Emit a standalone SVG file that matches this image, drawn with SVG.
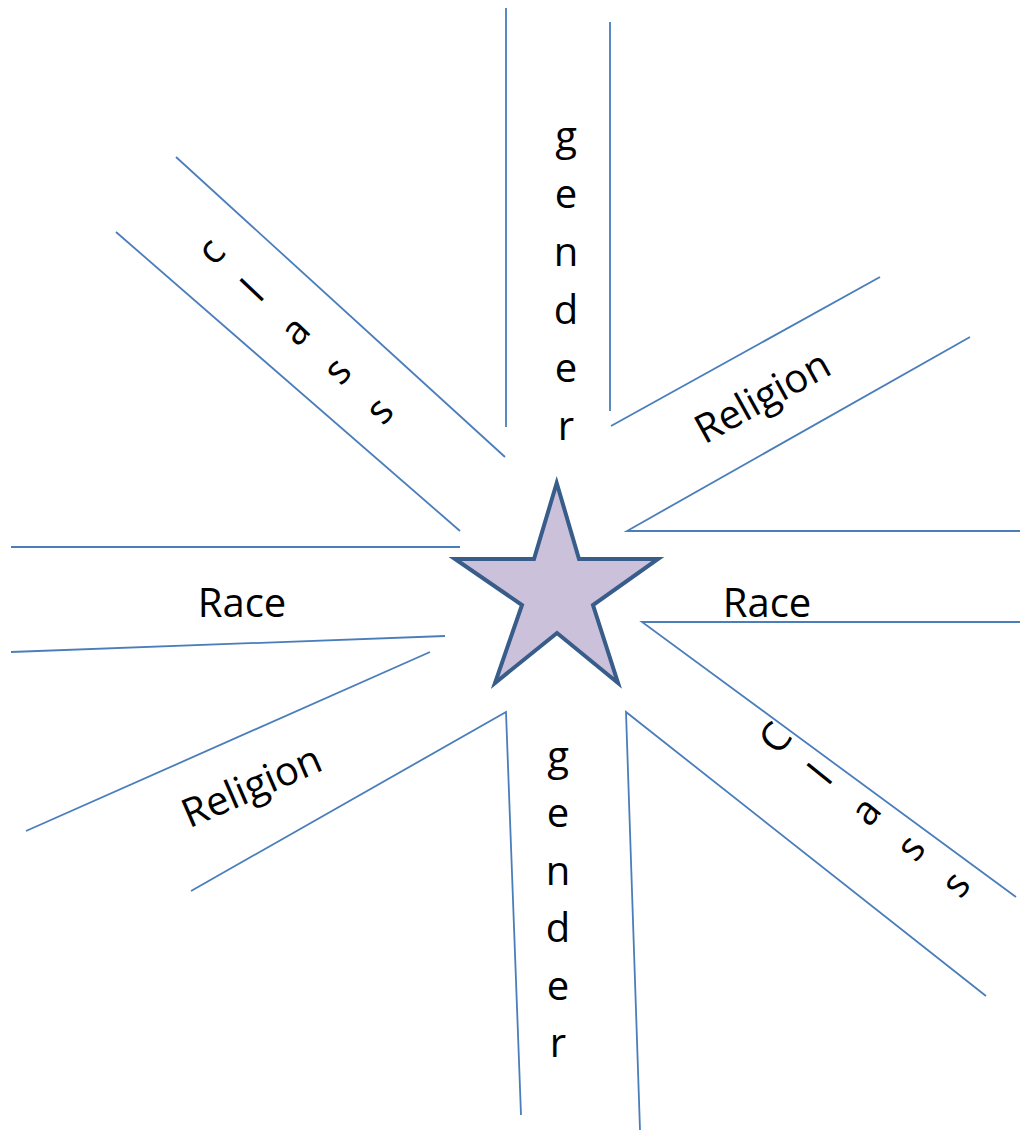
<svg xmlns="http://www.w3.org/2000/svg" width="1020" height="1131" viewBox="0 0 1020 1131">
<style>
.ln{fill:none;stroke:#4a7ebb;stroke-width:1.8;stroke-linejoin:miter}
.t{font-family:"Open Sans","Noto Sans","Liberation Sans",sans-serif;font-size:40px;fill:#000;text-anchor:middle}
.star{fill:#ccc1da;stroke:#385d8a;stroke-width:4;stroke-linejoin:miter}
</style>
<rect width="1020" height="1131" fill="#fff"/>
<g id="connectors">
<line class="ln" x1="506" y1="8" x2="506" y2="427"/>
<line class="ln" x1="610" y1="22" x2="610" y2="411"/>
<line class="ln" x1="176" y1="157" x2="505" y2="457"/>
<line class="ln" x1="116" y1="232" x2="460" y2="531"/>
<line class="ln" x1="611" y1="426" x2="880" y2="277"/>
<polyline class="ln" points="970,337 627,531 1020,531"/>
<polyline class="ln" points="1020,622 642,622 1016,897"/>
<polyline class="ln" points="986,996 626,712 640,1130"/>
<polyline class="ln" points="191,891 506,712 521,1115"/>
<line class="ln" x1="26" y1="831" x2="430" y2="652"/>
<line class="ln" x1="11" y1="652" x2="445" y2="636"/>
<line class="ln" x1="11" y1="547" x2="460" y2="547"/>
</g>
<g id="star">
<polygon class="star" points="556.7,483 579,559 658,559 593,605 618,683 557,633 495,683 522,605 455,559 534,559"/>
</g>
<g id="gender-top">
<text class="t" x="566" y="150">g</text>
<text class="t" x="566" y="208">e</text>
<text class="t" x="566" y="266">n</text>
<text class="t" x="566" y="324">d</text>
<text class="t" x="566" y="382">e</text>
<text class="t" x="566" y="440">r</text>
</g>
<g id="gender-bottom">
<text class="t" x="558" y="770">g</text>
<text class="t" x="558" y="827">e</text>
<text class="t" x="558" y="885">n</text>
<text class="t" x="558" y="942">d</text>
<text class="t" x="558" y="1000">e</text>
<text class="t" x="558" y="1057">r</text>
</g>
<g id="race-left">
<text class="t" x="242" y="617">Race</text>
</g>
<g id="race-right">
<text class="t" x="767" y="617">Race</text>
</g>
<g id="religion-top">
<text class="t" transform="translate(769,409) rotate(-29)">Religion</text>
</g>
<g id="religion-bottom">
<text class="t" transform="translate(257,799) rotate(-23.5)">Religion</text>
</g>
<g id="class-left" transform="translate(220.7,260.2) rotate(-46.6)">
<text class="t" x="0" y="0">c</text>
<text class="t" x="0" y="58">l</text>
<text class="t" x="0" y="116">a</text>
<text class="t" x="0" y="174">s</text>
<text class="t" x="0" y="232">s</text>
</g>
<g id="class-right" transform="translate(786,746.6) rotate(-51)">
<text class="t" x="0" y="0">C</text>
<text class="t" x="0" y="58">l</text>
<text class="t" x="0" y="116">a</text>
<text class="t" x="0" y="174">s</text>
<text class="t" x="0" y="232">s</text>
</g>
</svg>
